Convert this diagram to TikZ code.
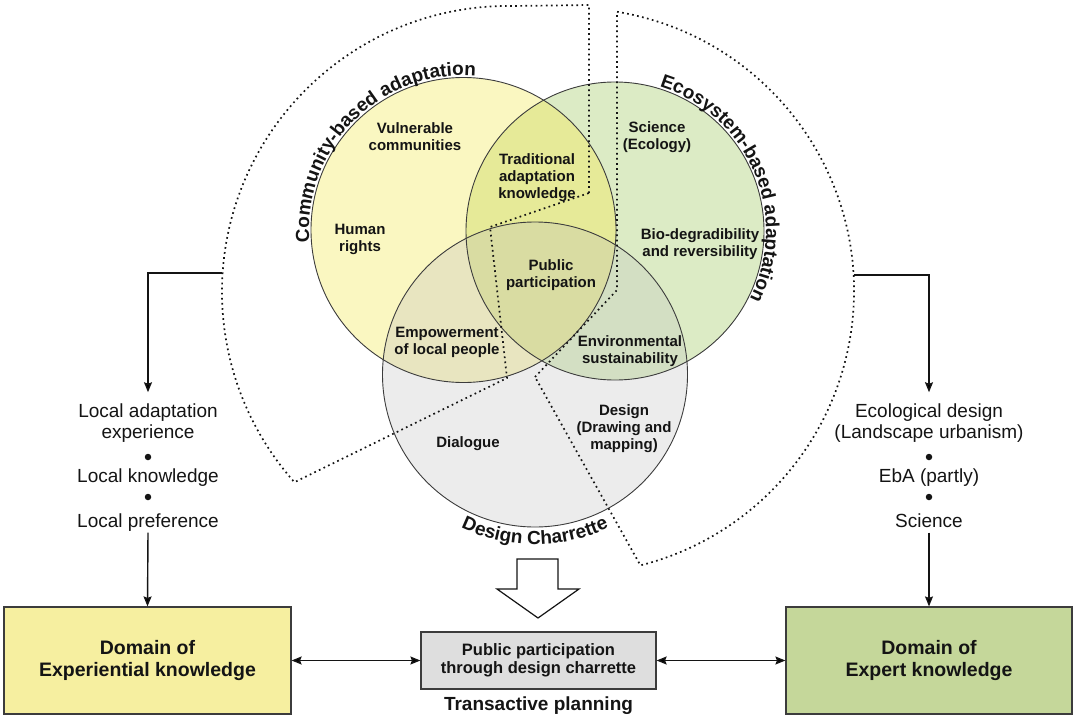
\documentclass[tikz,border=0pt]{standalone}
\usepackage{fontspec}
\setmainfont{Liberation Sans}
\usetikzlibrary{decorations.text,arrows.meta}
\definecolor{cY}{HTML}{FAF7C1}
\definecolor{cG}{HTML}{DCEBC5}
\definecolor{cD}{HTML}{ECECEC}
\definecolor{cYG}{HTML}{E6EA98}
\definecolor{cYD}{HTML}{E8E5C0}
\definecolor{cGD}{HTML}{D3DFC3}
\definecolor{cYGD}{HTML}{D9DCA2}
\definecolor{boxY}{HTML}{F6EFA0}
\definecolor{boxG}{HTML}{C5D79A}
\definecolor{boxM}{HTML}{DEDEDE}
\definecolor{ink}{HTML}{141414}
\definecolor{edge}{HTML}{3C3C3C}
\newcommand{\curvefont}{\fontsize{19}{19}\selectfont\bfseries}
\begin{document}
\begin{tikzpicture}[x=1pt,y=-1pt,
  venn/.style={font=\fontsize{15}{17}\selectfont\bfseries, align=center, text=ink, inner sep=0pt},
  side/.style={font=\fontsize{19}{21}\selectfont, align=center, text=ink, inner sep=0pt},
  domainbox/.style={draw=edge, line width=1.2pt, font=\fontsize{19.5}{22}\selectfont\bfseries, align=center, text=ink, minimum width=287pt, minimum height=107pt, inner sep=0pt},
  dotline/.style={draw=ink, line width=1.7pt, dash pattern=on 1.7pt off 3.4pt},
  ring/.style={draw=edge, line width=0.9pt},
  arr/.style={draw=ink, line width=1.4pt, -{Stealth[length=10pt,width=8pt,inset=1.5pt]}},
  dbl/.style={draw=ink, line width=1.4pt, {Stealth[length=10pt,width=8pt,inset=1.5pt]}-{Stealth[length=10pt,width=8pt,inset=1.5pt]}},
  bullet/.style={circle, fill=ink, inner sep=0pt, minimum size=6.5pt}
]
\useasboundingbox (0,0) rectangle (1076,720);

% circle centres
\coordinate (Y) at (463.5,230);
\coordinate (G) at (615,231);
\coordinate (D) at (535,374.5);

% fills
\fill[cY] (Y) circle[radius=152.5];
\fill[cG] (G) circle[radius=149];
\fill[cD] (D) circle[radius=152.5];
\begin{scope}\clip (Y) circle[radius=152.5]; \fill[cYG] (G) circle[radius=149];\end{scope}
\begin{scope}\clip (Y) circle[radius=152.5]; \fill[cYD] (D) circle[radius=152.5];\end{scope}
\begin{scope}\clip (G) circle[radius=149]; \fill[cGD] (D) circle[radius=152.5];\end{scope}
\begin{scope}\clip (Y) circle[radius=152.5]; \clip (G) circle[radius=149]; \fill[cYGD] (D) circle[radius=152.5];\end{scope}

% outlines
\draw[ring] (Y) circle[radius=152.5];
\draw[ring] (G) circle[radius=149];
\draw[ring] (D) circle[radius=152.5];

% dotted domain outlines
\draw[dotline] (589,193) -- (589,5)
  -- plot[smooth] coordinates {(589,5) (545,5.6) (500,6.1)}
  arc[start angle=268.4, end angle=138.3, radius=286]
  -- (507,378) -- (490,227) -- cycle;
\draw[dotline] (535,377) -- (617,290) -- (617,11.8)
  arc[start angle=-80.65, end angle=75.8, radius=283] -- cycle;

\coordinate (cbaL) at (222.2,273);
\coordinate (ebaR) at (853.5,275);

% curved titles
\path[decorate, decoration={text along path, text align=center, text color=ink,
  text={|\curvefont|Community-based adaptation}}]
  ([shift={(165:154.5)}]Y) arc[start angle=165, end angle=285, radius=154.5];
\path[decorate, decoration={text along path, text align=center, text color=ink,
  text={|\curvefont|Ecosystem-based adaptation}}]
  ([shift={(-85:151)}]G) arc[start angle=-85, end angle=39, radius=151];
\path[decorate, decoration={text along path, text align=center, text color=ink,
  text={|\curvefont|Design Charrette}}]
  ([shift={(125:170)}]D) arc[start angle=125, end angle=55, radius=170];

% venn texts
\node[venn] (t1) at (415,137) {Vulnerable\\communities};
\node[venn] (t2) at (360,239) {Human\\rights};
\node[venn] (t3) at (537,178) {Traditional\\adaptation\\knowledge};
\node[venn] (t4) at (657,137) {Science\\(Ecology)};
\node[venn] (t5) at (700,244) {Bio-degradibility\\and reversibility};
\node[venn] (t6) at (551,275) {Public\\participation};
\node[venn] (t7) at (447,342) {Empowerment\\of local people};
\node[venn] (t8) at (630,351) {Environmental\\sustainability};
\node[venn] (t9) at (624,429) {Design\\(Drawing and\\mapping)};
\node[venn] (t10) at (468,444) {Dialogue};

% left column
\node[side, inner ysep=11pt] (lae) at (148,422.8) {Local adaptation\\experience};
\node[bullet] (lb1) at (148,457) {};
\node[side] (lkn) at (148,477.3) {Local knowledge};
\node[bullet] (lb2) at (148,497) {};
\node[side, inner ysep=1.2pt] (lpr) at (148,522.3) {Local preference};

% right column
\node[side, inner ysep=11pt] (ecd) at (929,422.8) {Ecological design\\(Landscape urbanism)};
\node[bullet] (rb1) at (929,457) {};
\node[side] (eba) at (929,477.3) {EbA (partly)};
\node[bullet] (rb2) at (929,497) {};
\node[side, inner ysep=5pt] (sci) at (929,520.4) {Science};

% boxes
\node[domainbox, fill=boxY] (expL) at (147.5,660.5) {Domain of\\Experiential knowledge};
\node[domainbox, fill=boxG, minimum width=286pt] (expR) at (929,660.5) {Domain of\\Expert knowledge};
\node[draw=edge, line width=1.2pt, fill=boxM, minimum width=235pt, minimum height=57pt, inner sep=0pt,
  font=\fontsize{16.5}{18.5}\selectfont\bfseries, align=center, text=ink] (mid) at (538.5,660.5)
  {Public participation\\through design charrette};
\node[font=\fontsize{19}{22}\selectfont\bfseries, text=ink, inner sep=0pt] (trans) at (538.5,706) {Transactive planning};

% block arrow
\draw[draw=ink, line width=1.2pt, fill=white, line join=miter]
  (517,559) -- (558,559) -- (558,589) -- (579,589) -- (538,618) -- (497,589) -- (517,589) -- cycle;

% connectors
\draw[arr] (cbaL) -| (lae.north);
\draw[arr] (ebaR) -| (ecd.north);
\draw[arr] (lpr.south) -- (expL.north);
\draw[arr] (sci.south) -- (expR.north);
\draw[dbl] (expL.east) -- (mid.west);
\draw[dbl] (mid.east) -- (expR.west);
\end{tikzpicture}
\end{document}
